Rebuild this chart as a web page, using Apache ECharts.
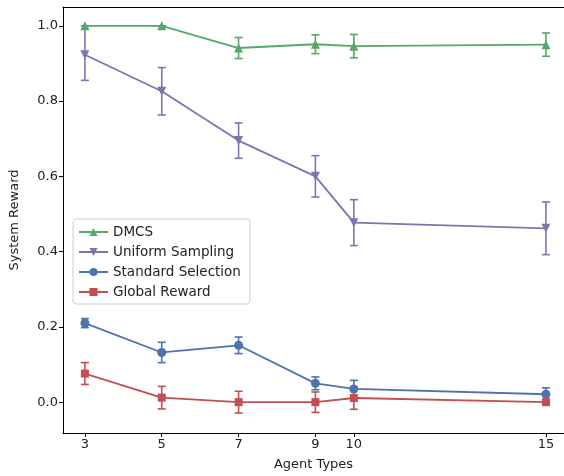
<!DOCTYPE html>
<html>
<head>
<meta charset="utf-8">
<script src="https://cdn.jsdelivr.net/npm/echarts@6/dist/echarts.min.js"></script>
<style>
html,body{margin:0;padding:0;background:#fff;}
#main{width:564px;height:476px;}
</style>
</head>
<body>
<div id="main"></div>
<script>
// agent types on x axis
var agentTypes = [3, 5, 7, 9, 10, 15];
var yTicks = [0, 0.2, 0.4, 0.6, 0.8, 1.0];

var dmcs = [1.0, 1.0, 0.941, 0.951, 0.946, 0.950];
var dmcsErr = [0.0, 0.0, 0.028, 0.025, 0.031, 0.031];
var uniform = [0.923, 0.826, 0.695, 0.600, 0.477, 0.462];
var uniformErr = [0.068, 0.063, 0.047, 0.055, 0.061, 0.070];
var standard = [0.210, 0.132, 0.151, 0.050, 0.035, 0.021];
var standardErr = [0.012, 0.027, 0.022, 0.017, 0.023, 0.017];
var globalR = [0.076, 0.012, 0.0, 0.0, 0.011, 0.0];
var globalErr = [0.029, 0.030, 0.029, 0.027, 0.030, 0.005];

var names = ['DMCS', 'Uniform Sampling', 'Standard Selection', 'Global Reward'];
var colors = ['#55A868', '#8172B2', '#4C72B0', '#C44E52'];
var symbols = ['triangle', 'triangle', 'circle', 'rect'];
var rotates = [0, 180, 0, 0];
var allVals = [dmcs, uniform, standard, globalR];
var allErr = [dmcsErr, uniformErr, standardErr, globalErr];

var myChart = echarts.init(document.getElementById('main'));

function errSeries(idx) {
    var vals = allVals[idx], errs = allErr[idx];
    var data = agentTypes.map(function (x, i) {
        return [x, vals[i] - errs[i], vals[i] + errs[i]];
    });
    return {
        type: 'custom',
        name: names[idx] + ' err',
        data: data,
        z: 2 + idx,
        silent: true,
        renderItem: function (params, api) {
            var lo = api.coord([api.value(0), api.value(1)]);
            var hi = api.coord([api.value(0), api.value(2)]);
            var cw = 4;
            var st = { stroke: colors[idx], lineWidth: 1.6 };
            return {
                type: 'group',
                children: [
                    { type: 'line', shape: { x1: lo[0], y1: lo[1], x2: hi[0], y2: hi[1] }, style: st },
                    { type: 'line', shape: { x1: lo[0] - cw, y1: lo[1], x2: lo[0] + cw, y2: lo[1] }, style: st },
                    { type: 'line', shape: { x1: hi[0] - cw, y1: hi[1], x2: hi[0] + cw, y2: hi[1] }, style: st }
                ]
            };
        }
    };
}

var series = [];
for (var k = 0; k < 4; k++) {
    series.push(errSeries(k));
    series.push({
        type: 'line',
        name: names[k],
        data: agentTypes.map(function (x, i) { return [x, allVals[k][i]]; }),
        symbol: symbols[k],
        symbolSize: k == 3 ? 8 : 9,
        symbolRotate: rotates[k],
        showAllSymbol: true,
        z: 3 + k,
        lineStyle: { color: colors[k], width: 1.8 },
        itemStyle: { color: colors[k] },
        emphasis: { disabled: true }
    });
}

var option = {
    animation: false,
    textStyle: { fontFamily: 'DejaVu Sans' },
    grid: {
        left: 62, top: 7, right: 0, bottom: 42
    },
    legend: {
        data: names,
        orient: 'vertical',
        left: 73, top: 219,
        itemWidth: 29, itemHeight: 10,
        itemGap: 6,
        padding: [6, 9, 5, 5],
        borderColor: '#d0d0d0', borderWidth: 1, borderRadius: 3,
        backgroundColor: '#fff',
        textStyle: { fontSize: 13.5, color: '#222', fontFamily: 'DejaVu Sans' }
    },
    xAxis: [{
        type: 'value',
        min: 2.43, max: 15.47,
        name: 'Agent Types',
        nameLocation: 'middle',
        nameGap: 25,
        nameTextStyle: { fontSize: 13, color: '#222' },
        splitLine: { show: false },
        axisLine: { onZero: false, lineStyle: { color: '#000' } },
        axisTick: { show: true, length: 4, lineStyle: { color: '#000' }, customValues: agentTypes },
        axisLabel: { fontSize: 13, color: '#222', margin: 5, customValues: agentTypes }
    }, {
        // top spine only
        type: 'value',
        position: 'top',
        min: 2.43, max: 15.47,
        splitLine: { show: false },
        axisLine: { show: true, onZero: false, lineStyle: { color: '#000' } },
        axisTick: { show: false },
        axisLabel: { show: false }
    }],
    yAxis: {
        type: 'value',
        min: -0.082, max: 1.05,
        name: 'System Reward',
        nameLocation: 'middle',
        nameGap: 42,
        nameTextStyle: { fontSize: 13, color: '#222' },
        splitLine: { show: false },
        axisLine: { show: true, onZero: false, lineStyle: { color: '#000' } },
        axisTick: { show: true, length: 4, lineStyle: { color: '#000' }, customValues: yTicks },
        axisLabel: {
            fontSize: 13, color: '#222', margin: 5, customValues: yTicks,
            formatter: function (v) { return v.toFixed(1); }
        }
    },
    series: series
};
myChart.setOption(option);
</script>
</body>
</html>
